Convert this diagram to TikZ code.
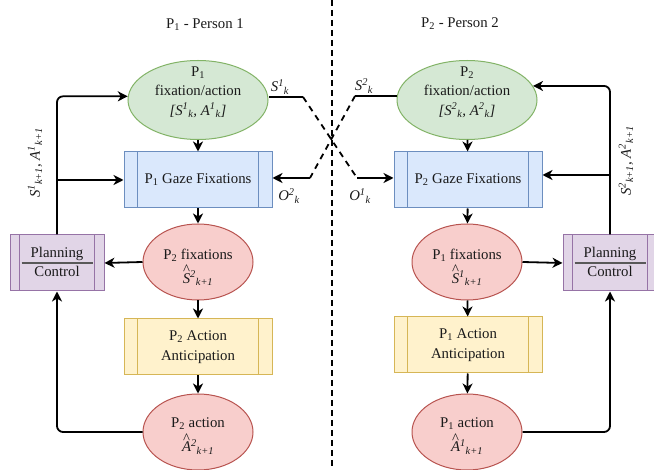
\documentclass[tikz,border=0pt]{standalone}
\usepackage{fontspec}
\setmainfont{Liberation Serif}
\usetikzlibrary{shapes.geometric,arrows.meta}
\definecolor{gfill}{HTML}{D5E8D4}\definecolor{gdraw}{HTML}{82B366}
\definecolor{bfill}{HTML}{DAE8FC}\definecolor{bdraw}{HTML}{6C8EBF}
\definecolor{rfill}{HTML}{F8CECC}\definecolor{rdraw}{HTML}{B85450}
\definecolor{yfill}{HTML}{FFF2CC}\definecolor{ydraw}{HTML}{D6B656}
\definecolor{pfill}{HTML}{E1D5E7}\definecolor{pdraw}{HTML}{9673A6}
\definecolor{textc}{HTML}{1A1A1A}
\newcommand\hatover[1]{\ooalign{\hidewidth\raisebox{0.55em}{\textup{\textasciicircum}}\hidewidth\cr#1\cr}}
\newcommand\proclines[3]{%
  \draw[#3,line width=1pt] ([xshift=#2]#1.north west) -- ([xshift=#2]#1.south west);
  \draw[#3,line width=1pt] ([xshift=-#2]#1.north east) -- ([xshift=-#2]#1.south east);}
\begin{document}
\begin{tikzpicture}[x=1pt,y=-1pt,
  font=\fontsize{14.8}{19.5}\selectfont, text=textc,
  gell/.style={ellipse,draw=gdraw,fill=gfill,line width=1pt,inner sep=0,minimum width=140pt,minimum height=79pt},
  rell/.style={ellipse,draw=rdraw,fill=rfill,line width=1pt,inner sep=0,minimum width=110pt,minimum height=76pt},
  bproc/.style={rectangle,draw=bdraw,fill=bfill,line width=1pt,inner sep=0,minimum width=148pt,minimum height=56pt},
  yproc/.style={rectangle,draw=ydraw,fill=yfill,line width=1pt,inner sep=0,minimum width=148pt,minimum height=56pt},
  pproc/.style={rectangle,draw=pdraw,fill=pfill,line width=1pt,inner sep=0,minimum width=94pt,minimum height=56pt},
  txt/.style={align=center,inner sep=0},
  arr/.style={line width=1.8pt,-{Stealth[length=10pt,width=10pt,inset=3pt]},rounded corners=6pt},
  link/.style={line width=1.8pt},
  dlink/.style={line width=1.8pt,dash pattern=on 6pt off 5pt},
]
\useasboundingbox (0,0) rectangle (654,470);

% middle separator
\coordinate (mtop) at (332,0);
\coordinate (mbot) at (332,470);
\draw[line width=1.8pt,dash pattern=on 6pt off 4pt] (mtop) -- (mbot);

% titles
\node[txt] (t1) at (205,25) {P\textsubscript{1} - Person 1};
\node[txt] (t2) at (460,24) {P\textsubscript{2} - Person 2};

% ---------- left column ----------
\node[gell] (e1) at (198,100) {};
\node[txt] (e1t) at (198,92) {P\textsubscript{1}\\fixation/action\\\textit{[S\textsuperscript{1}\textsubscript{k}, A\textsuperscript{1}\textsubscript{k}]}};
\node[bproc] (b1) at (198,180) {};
\proclines{b1}{14pt}{bdraw}
\node[txt] (b1t) at (b1) {P\textsubscript{1} Gaze Fixations};
\node[rell] (f1) at (198,262) {};
\node[txt] (f1t) at (198,267) {P\textsubscript{2} fixations\\[3pt]\textit{\hatover{S}\textsuperscript{2}\textsubscript{k+1}}};
\node[yproc] (y1) at (198,347) {};
\proclines{y1}{14pt}{ydraw}
\node[txt] (y1t) at (y1) {P\textsubscript{2} Action\\Anticipation};
\node[rell] (a1) at (198,432) {};
\node[txt] (a1t) at (198,436) {P\textsubscript{2} action\\[3pt]\textit{\hatover{A}\textsuperscript{2}\textsubscript{k+1}}};
\node[pproc] (pc1) at (57,263) {};
\proclines{pc1}{10pt}{pdraw}
\draw[line width=1.3pt,black!65] ([xshift=12pt]pc1.west) -- ([xshift=-12pt]pc1.east);
\node[txt,anchor=base] (pc1a) at (57,258) {Planning};
\node[txt,anchor=base] (pc1b) at (57,277) {Control};

\draw[arr] (e1) -- (b1);
\draw[arr] (b1) -- (f1);
\draw[arr] (f1) -- (y1);
\draw[arr] (y1) -- (a1);
\draw[arr] (f1.west) -- (pc1.east);
\draw[arr] (a1.west) -| (pc1.south);
\draw[arr] (pc1.north) |- (e1.177);
\coordinate (br1) at (pc1.north |- b1.west);
\draw[arr] (br1) -- (b1.west);
\node[txt,rotate=90] (l1) at (35,163) {\textit{S\textsuperscript{1}\textsubscript{k+1}, A\textsuperscript{1}\textsubscript{k+1}}};

% ---------- right column ----------
\node[gell] (e2) at (467,100) {};
\node[txt] (e2t) at (467,92) {P\textsubscript{2}\\fixation/action\\\textit{[S\textsuperscript{2}\textsubscript{k}, A\textsuperscript{2}\textsubscript{k}]}};
\node[bproc] (b2) at (468,180) {};
\proclines{b2}{14pt}{bdraw}
\node[txt] (b2t) at (b2) {P\textsubscript{2} Gaze Fixations};
\node[rell] (f2) at (467,262) {};
\node[txt] (f2t) at (467,267) {P\textsubscript{1} fixations\\[3pt]\textit{\hatover{S}\textsuperscript{1}\textsubscript{k+1}}};
\node[yproc] (y2) at (468,345) {};
\proclines{y2}{14pt}{ydraw}
\node[txt] (y2t) at (y2) {P\textsubscript{1} Action\\Anticipation};
\node[rell] (a2) at (467,432) {};
\node[txt] (a2t) at (467,436) {P\textsubscript{1} action\\[3pt]\textit{\hatover{A}\textsuperscript{1}\textsubscript{k+1}}};
\node[pproc] (pc2) at (610,263) {};
\proclines{pc2}{10pt}{pdraw}
\draw[line width=1.3pt,black!65] ([xshift=12pt]pc2.west) -- ([xshift=-12pt]pc2.east);
\node[txt,anchor=base] (pc2a) at (610,258) {Planning};
\node[txt,anchor=base] (pc2b) at (610,277) {Control};

\draw[arr] (e2) -- (b2);
\draw[arr] (b2) -- (f2);
\draw[arr] (f2) -- (y2);
\draw[arr] (y2) -- (a2);
\draw[arr] (f2.east) -- (pc2.west);
\draw[arr] (a2.east) -| (pc2.south);
\draw[arr] (pc2.north) |- (e2.12);
\coordinate (bp2) at ([yshift=5pt]b2.east);
\coordinate (br2) at (pc2.north |- bp2);
\draw[arr] (br2) -- (bp2);
\node[txt,rotate=90] (l2) at (626,161) {\textit{S\textsuperscript{2}\textsubscript{k+1}, A\textsuperscript{2}\textsubscript{k+1}}};

% ---------- crossing ----------
\coordinate (s1) at (303,97);
\coordinate (o1) at (357,178);
\coordinate (s2) at (355,96);
\coordinate (o2) at (310,178);
\draw[link] (s1 -| e1.east) -- (s1);
\draw[dlink] (s1) -- (o1);
\draw[arr] (o1) -- (o1 -| b2.west);
\draw[link] (s2 -| e2.west) -- (s2);
\draw[dlink] (s2) -- (o2);
\draw[arr] (o2) -- (o2 -| b1.east);
\node[txt] (ls1) at (280,87) {\textit{S\textsuperscript{1}\textsubscript{k}}};
\node[txt] (ls2) at (364,86) {\textit{S\textsuperscript{2}\textsubscript{k}}};
\node[txt] (lo2) at (289,196) {\textit{O\textsuperscript{2}\textsubscript{k}}};
\node[txt] (lo1) at (360,196) {\textit{O\textsuperscript{1}\textsubscript{k}}};
\end{tikzpicture}
\end{document}
